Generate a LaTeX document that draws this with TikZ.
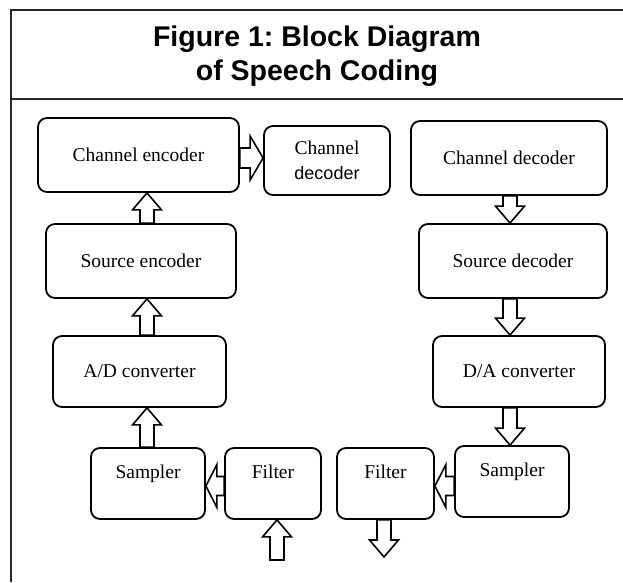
\documentclass[tikz,border=0pt]{standalone}
\usepackage{fontspec}
\setmainfont{Liberation Serif}
\setsansfont{Liberation Sans}
\newfontfamily\titlefont{Liberation Sans}
\frenchspacing
\usepackage{tikz}
\usetikzlibrary{calc,backgrounds}

\tikzset{
  blk/.style={draw=black, line width=1.8pt, rounded corners=9pt, align=center,
    font=\fontsize{19.5}{25}\selectfont, inner sep=0pt},
  toptext/.style={text depth=24pt},
  fatarrow/.style={draw=black, line width=1.6pt, line join=miter},
  frame/.style={draw=black!85, line width=1.3pt}
}

% hollow block arrows: #1 tail, #2 tip
\newcommand\arrup[2]{\draw[fatarrow] let \p1=(#1), \p2=(#2) in
  (\p2) -- (\x2+14.5pt,\y2-17pt) -- (\x2+7pt,\y2-17pt) -- (\x2+7pt,\y1)
  -- (\x2-7pt,\y1) -- (\x2-7pt,\y2-17pt) -- (\x2-14.5pt,\y2-17pt) -- cycle;}
\newcommand\arrdown[2]{\draw[fatarrow] let \p1=(#1), \p2=(#2) in
  (\p2) -- (\x2+14.5pt,\y2+17pt) -- (\x2+7pt,\y2+17pt) -- (\x2+7pt,\y1)
  -- (\x2-7pt,\y1) -- (\x2-7pt,\y2+17pt) -- (\x2-14.5pt,\y2+17pt) -- cycle;}
\newcommand\arrright[2]{\draw[fatarrow] let \p1=(#1), \p2=(#2) in
  (\p2) -- (\x2-13pt,\y2+22pt) -- (\x2-13pt,\y2+10pt) -- (\x1,\y2+10pt)
  -- (\x1,\y2-10pt) -- (\x2-13pt,\y2-10pt) -- (\x2-13pt,\y2-22pt) -- cycle;}
\newcommand\arrleft[2]{\draw[fatarrow] let \p1=(#1), \p2=(#2) in
  (\p2) -- (\x2+11pt,\y2+21.5pt) -- (\x2+11pt,\y2+9.5pt) -- (\x1,\y2+9.5pt)
  -- (\x1,\y2-9.5pt) -- (\x2+11pt,\y2-9.5pt) -- (\x2+11pt,\y2-21.5pt) -- cycle;}

\begin{document}
\begin{tikzpicture}[x=1pt,y=-1pt]
\useasboundingbox (0,0) rectangle (623,582);

% frame and title
\draw[frame] (623,10) -| (11,582);
\draw[frame] (11,99) -- (623,99);
\node[align=center, font=\titlefont\bfseries\fontsize{28.5}{34}\selectfont] (title)
  at (317,56) {Figure 1: Block Diagram\\of Speech Coding};

% encoder side
\node[blk, minimum width=201pt, minimum height=74pt] (ce) at (138.5,155) {Channel encoder};
\node[blk, minimum width=126pt, minimum height=69pt] (cd1) at (327,160.5)
  {Channel\\{\sffamily\fontsize{18}{25}\selectfont decoder}};
\node[blk, minimum width=190pt, minimum height=74pt] (se) at (141,261) {Source encoder};
\node[blk, minimum width=173pt, minimum height=71pt] (ad) at (139.5,371.5) {A/D converter};
\node[blk, toptext, minimum width=114pt, minimum height=71pt] (sa1) at (148,483.5) {Sampler};
\node[blk, toptext, minimum width=96pt, minimum height=71pt] (fi1) at (273,483.5) {Filter};

% decoder side
\node[blk, minimum width=196pt, minimum height=74pt] (cd2) at (509,158) {Channel decoder};
\node[blk, minimum width=188pt, minimum height=74pt] (sd) at (513,261) {Source decoder};
\node[blk, minimum width=172pt, minimum height=71pt] (da) at (519,371.5) {D/A converter};
\node[blk, toptext, minimum width=114pt, minimum height=71pt] (sa2) at (512,481.5) {Sampler};
\node[blk, toptext, minimum width=97pt, minimum height=71pt] (fi2) at (385.5,483.5) {Filter};

\coordinate (in1) at (277,560);
\coordinate (out1) at (384,557);

\begin{pgfonlayer}{background}
\arrup{147,0 |- se.north}{147,0 |- ce.south}
\arrup{147,0 |- ad.north}{147,0 |- se.south}
\arrup{147,0 |- sa1.north}{147,0 |- ad.south}
\arrup{in1}{277,0 |- fi1.south}
\arrright{ce.east |- 0,158}{cd1.west |- 0,158}
\arrleft{fi1.west |- 0,486}{sa1.east |- 0,486}
\arrleft{sa2.west |- 0,486}{fi2.east |- 0,486}
\arrdown{510,0 |- cd2.south}{510,0 |- sd.north}
\arrdown{510,0 |- sd.south}{510,0 |- da.north}
\arrdown{510,0 |- da.south}{510,0 |- sa2.north}
\arrdown{384,0 |- fi2.south}{out1}
\end{pgfonlayer}
\end{tikzpicture}
\end{document}
